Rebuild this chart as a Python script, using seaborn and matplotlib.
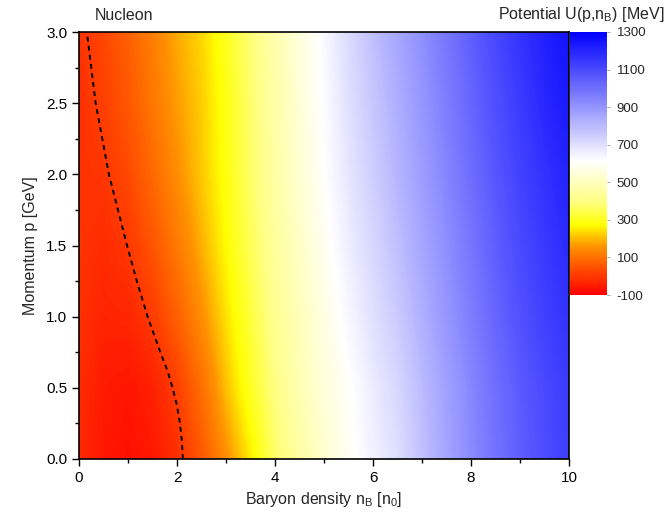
import numpy as np
import matplotlib
matplotlib.use("Agg")
import matplotlib.pyplot as plt
from matplotlib.colors import LinearSegmentedColormap
from matplotlib.ticker import MultipleLocator
import seaborn as sns

# ---- data ----
density = [0.0, 0.5, 1.0, 1.5, 2.0, 2.5, 3.0, 3.5, 4.0, 4.5, 5.0,
           5.5, 6.0, 6.5, 7.0, 7.5, 8.0, 8.5, 9.0, 9.5, 10.0]
momentum = [0.0, 0.5, 1.0, 1.5, 2.0, 2.5, 3.0]

u_p00 = [-25, -55, -70, -55, -15, 55, 150, 250, 370, 455, 530, 595, 650, 700, 780, 855, 925, 990, 1045, 1090, 1130]
u_p05 = [-20, -50, -60, -40, 10, 95, 205, 305, 400, 480, 550, 605, 665, 720, 795, 865, 935, 1000, 1055, 1100, 1140]
u_p10 = [-10, -35, -30, 5, 70, 150, 240, 330, 420, 495, 565, 635, 695, 755, 825, 895, 960, 1025, 1080, 1125, 1165]
u_p15 = [-5, -20, 0, 50, 115, 190, 270, 355, 440, 515, 590, 660, 720, 785, 850, 915, 980, 1045, 1100, 1145, 1185]
u_p20 = [-10, -5, 30, 85, 150, 215, 285, 370, 455, 535, 610, 680, 745, 810, 875, 940, 1005, 1065, 1120, 1165, 1205]
u_p25 = [-15, 15, 55, 110, 170, 220, 290, 375, 460, 545, 620, 695, 765, 830, 895, 960, 1025, 1085, 1140, 1190, 1230]
u_p30 = [-10, 25, 70, 125, 185, 230, 300, 385, 470, 555, 630, 710, 785, 850, 915, 980, 1045, 1105, 1160, 1210, 1250]

# zero-potential contour (U = 0)
contour_p = [0.0, 0.125, 0.25, 0.375, 0.5, 0.625, 0.75, 1.0, 1.25, 1.5, 2.0, 2.5, 3.0]
contour_n = [2.12, 2.10, 2.06, 2.00, 1.91, 1.80, 1.66, 1.40, 1.18, 0.98, 0.61, 0.34, 0.16]

cbar_ticks = [-100, 100, 300, 500, 700, 900, 1100, 1300]
x_ticks = [0, 2, 4, 6, 8, 10]
y_ticks = [0.0, 0.5, 1.0, 1.5, 2.0, 2.5, 3.0]

# ---- styling ----
sns.set_style("ticks")
plt.rcParams["font.family"] = ["Liberation Sans", "DejaVu Sans"]
plt.rcParams["mathtext.fontset"] = "custom"
plt.rcParams["mathtext.rm"] = "Liberation Sans"
plt.rcParams["mathtext.it"] = "Liberation Sans"

vmin, vmax = -100, 1300
def pos(v):
    return (v - vmin) / (vmax - vmin)
cmap = LinearSegmentedColormap.from_list(
    "ryw_b",
    [(pos(-100), (1.0, 0.0, 0.0)),
     (pos(160), (1.0, 0.58, 0.0)),
     (pos(270), (1.0, 1.0, 0.0)),
     (pos(400), (1.0, 1.0, 0.52)),
     (pos(615), (1.0, 1.0, 1.0)),
     (pos(1300), (0.0, 0.0, 1.0))])

U = np.array([u_p00, u_p05, u_p10, u_p15, u_p20, u_p25, u_p30], dtype=float)
dn = density[1] - density[0]
dp = momentum[1] - momentum[0]

fig = plt.figure(figsize=(6.66, 5.2), dpi=100)
ax = fig.add_axes([79/666, 61/520, 490/666, 427/520])
im = ax.imshow(U, origin="lower", cmap=cmap, vmin=vmin, vmax=vmax,
               extent=[density[0] - dn/2, density[-1] + dn/2,
                       momentum[0] - dp/2, momentum[-1] + dp/2],
               aspect="auto", interpolation="bilinear",
               interpolation_stage="data")

sns.lineplot(x=contour_n, y=contour_p, sort=False, ax=ax, color="black",
             lw=1.4, linestyle=(0, (2.5, 2.2)), estimator=None)
ax.plot([contour_n[0], density[-1]], [momentum[0], momentum[0]],
        color="0.35", lw=0.9, linestyle=(0, (2, 2)))

ax.set_xlim(density[0], density[-1])
ax.set_ylim(momentum[0], momentum[-1])
ax.set_xticks(x_ticks)
ax.set_yticks(y_ticks)
ax.set_xticklabels([str(t) for t in x_ticks])
ax.set_yticklabels([f"{t:.1f}" for t in y_ticks])
ax.xaxis.set_minor_locator(MultipleLocator(1))
ax.yaxis.set_minor_locator(MultipleLocator(0.25))
ax.tick_params(which="major", direction="out", length=5, width=1.0,
               labelsize=11, color="black", labelcolor="black")
ax.tick_params(which="minor", direction="out", length=3, width=1.0, color="black")
for s in ax.spines.values():
    s.set_visible(True)
    s.set_color("black")
    s.set_linewidth(1.2)

ax.set_xlabel(r"Baryon density n$_\mathregular{B}$ [n$_\mathregular{0}$]",
              fontsize=11.5, labelpad=4)
ax.set_ylabel("Momentum p [GeV]", fontsize=11.5, labelpad=6)

cax = fig.add_axes([570/666, 225/520, 37/666, 263/520])
cb = fig.colorbar(im, cax=cax, ticks=cbar_ticks)
cb.outline.set_visible(False)
cb.ax.tick_params(length=2, width=0.6, color="0.6", labelsize=9.5, pad=5)
cb.ax.set_yticklabels([str(t) for t in cbar_ticks])

fig.text(664/666, 1 - 14/520, r"Potential U(p,n$_\mathregular{B}$) [MeV]",
         ha="right", va="center", fontsize=11.5)
fig.text(95/666, 1 - 16/520, "Nucleon", ha="left", va="center", fontsize=11.5)

fig.savefig("out.png", dpi=100)
